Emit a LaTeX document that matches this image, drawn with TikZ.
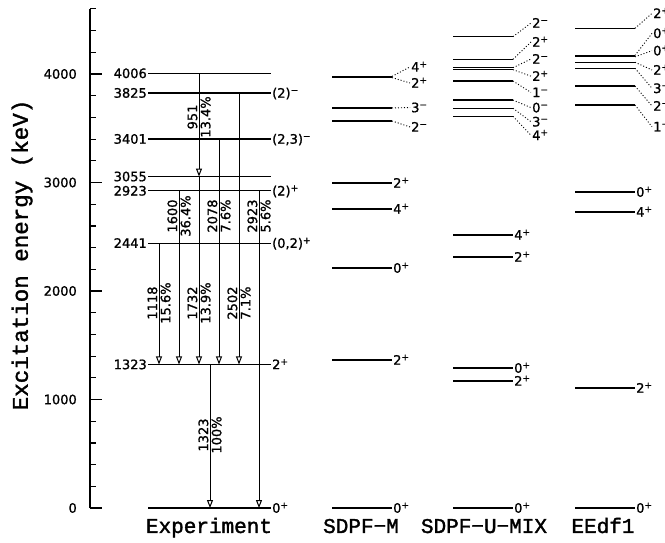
\documentclass[tikz,border=0pt]{standalone}
\usepackage{fontspec}
\newfontfamily\lf[FakeBold=1.2]{DejaVu Sans}
\newfontfamily\tf[FakeBold=1.6]{Liberation Mono}
\usetikzlibrary{arrows.meta}
\newcommand\jp{\textsuperscript{+}}
\newcommand\jm{\textsuperscript{\char"2212}}
\begin{document}
\begin{tikzpicture}[x=1pt,y=0.1085pt,
  lev/.style={line width=1.2pt},
  axl/.style={line width=1.2pt},
  gam/.style={line width=1pt,-{Triangle[open,length=8pt,width=6pt]}},
  dots/.style={line width=0.9pt,dash pattern=on 1pt off 2pt},
  lab/.style={font=\lf\fontsize{13}{15}\selectfont,inner sep=1pt},
  splab/.style={lab,anchor=base west,yshift=-4.7pt},
  elab/.style={lab,anchor=base east,yshift=-4.7pt},
  glab/.style={lab,rotate=90,inner sep=1.5pt},
  ttl/.style={font=\tf\fontsize{21}{23}\selectfont,inner sep=0pt,anchor=base}]
\useasboundingbox (0,-313.36) rectangle (665,4682);
\clip (0,-313.36) rectangle (665,4682);
\fill[white] (0,-313.36) rectangle (665,4682);

% axis
\draw[axl] (90,0) coordinate (ax0) -- (90,4600) coordinate (ax1);
\foreach \e in {0,1000,2000,3000,4000} \draw[axl] (90,\e) -- (102,\e);
\foreach \e in {200,400,600,800,1200,1400,1600,1800,2200,2400,2600,2800,3200,3400,3600,3800,4200,4400,4600} \draw[axl] (90,\e) -- (96,\e);
\node[elab] (tk0) at (78,0) {0};
\node[elab] (tk1) at (78,1000) {1000};
\node[elab] (tk2) at (78,2000) {2000};
\node[elab] (tk3) at (78,3000) {3000};
\node[elab] (tk4) at (78,4000) {4000};
\node[font=\tf\fontsize{22.5}{24}\selectfont,rotate=90,inner sep=0pt] (ylab) at (22,2332) {Excitation energy (keV)};

% Experiment levels
\draw[lev] (148,4006) coordinate (x1l) -- (271,4006) coordinate (x1r);
\draw[lev] (148,3825) coordinate (x2l) -- (271,3825) coordinate (x2r);
\draw[lev] (148,3401) coordinate (x3l) -- (271,3401) coordinate (x3r);
\draw[lev] (148,3055) coordinate (x4l) -- (271,3055) coordinate (x4r);
\draw[lev] (148,2923) coordinate (x5l) -- (271,2923) coordinate (x5r);
\draw[lev] (148,2441) coordinate (x6l) -- (271,2441) coordinate (x6r);
\draw[lev] (148,1323) coordinate (x7l) -- (271,1323) coordinate (x7r);
\draw[lev] (148,0) coordinate (x8l) -- (271,0) coordinate (x8r);
\node[elab] (xl1) at (x1l) {4006};
\node[elab] (xl2) at (x2l) {3825};
\node[elab] (xl3) at (x3l) {3401};
\node[elab] (xl4) at (x4l) {3055};
\node[elab] (xl5) at (x5l) {2923};
\node[elab] (xl6) at (x6l) {2441};
\node[elab] (xl7) at (x7l) {1323};
\node[splab] (xr2) at (x2r) {(2)\jm};
\node[splab] (xr3) at (x3r) {(2,3)\jm};
\node[splab] (xr5) at (x5r) {(2)\jp};
\node[splab] (xr6) at (x6r) {(0,2)\jp};
\node[splab] (xr7) at (x7r) {2\jp};
\node[splab] (xr8) at (x8r) {0\jp};

% transitions
\coordinate (ga1) at (199,4006); \coordinate (gb1) at (199,3055);
\coordinate (ga2) at (179,2923); \coordinate (gb2) at (179,1323);
\coordinate (ga3) at (199,3055); \coordinate (gb3) at (199,1323);
\coordinate (ga4) at (219,3401); \coordinate (gb4) at (219,1323);
\coordinate (ga5) at (239,3825); \coordinate (gb5) at (239,1323);
\coordinate (ga6) at (159,2441); \coordinate (gb6) at (159,1323);
\coordinate (ga7) at (210,1323); \coordinate (gb7) at (210,0);
\coordinate (ga8) at (259,2923); \coordinate (gb8) at (259,0);
\foreach \i in {1,...,8} \draw[gam] (ga\i) -- (gb\i);
\node[glab,anchor=south] (ge1) at (199,3604) {951};
\node[glab,anchor=north] (gi1) at (199,3604) {13.4\%};
\node[glab,anchor=south] (ge2) at (179,2691) {1600};
\node[glab,anchor=north] (gi2) at (179,2691) {36.4\%};
\node[glab,anchor=south] (ge4) at (219,2691) {2078};
\node[glab,anchor=north] (gi4) at (219,2691) {7.6\%};
\node[glab,anchor=south] (ge8) at (259,2691) {2923};
\node[glab,anchor=north] (gi8) at (259,2691) {5.6\%};
\node[glab,anchor=south] (ge6) at (159,1889) {1118};
\node[glab,anchor=north] (gi6) at (159,1889) {15.6\%};
\node[glab,anchor=south] (ge3) at (199,1889) {1732};
\node[glab,anchor=north] (gi3) at (199,1889) {13.9\%};
\node[glab,anchor=south] (ge5) at (239,1889) {2502};
\node[glab,anchor=north] (gi5) at (239,1889) {7.1\%};
\node[glab,anchor=south] (ge7) at (210,673) {1323};
\node[glab,anchor=north] (gi7) at (210,673) {100\%};

% SDPF-M
\draw[lev] (332,3978) -- (392,3978) coordinate (m1r);
\draw[lev] (332,3967) -- (392,3967) coordinate (m2r);
\draw[lev] (332,3687) -- (392,3687) coordinate (m3r);
\draw[lev] (332,3567) -- (392,3567) coordinate (m4r);
\draw[lev] (332,2995) -- (392,2995) coordinate (m5r);
\draw[lev] (332,2756) -- (392,2756) coordinate (m6r);
\draw[lev] (332,2212) -- (392,2212) coordinate (m7r);
\draw[lev] (332,1364) -- (392,1364) coordinate (m8r);
\draw[lev] (332,0) -- (392,0) coordinate (m9r);
\node[splab] (ml1) at (410,4065) {4\jp};
\node[splab] (ml2) at (410,3917) {2\jp};
\node[splab] (ml3) at (410,3691) {3\jm};
\node[splab] (ml4) at (410,3512) {2\jm};
\foreach \i in {1,...,4} \draw[dots] (m\i r) -- ([yshift=4.7pt]ml\i.base west);
\node[splab] (ml5) at (m5r) {2\jp};
\node[splab] (ml6) at (m6r) {4\jp};
\node[splab] (ml7) at (m7r) {0\jp};
\node[splab] (ml8) at (m8r) {2\jp};
\node[splab] (ml9) at (m9r) {0\jp};

% SDPF-U-MIX
\draw[lev] (453,4344) -- (513,4344) coordinate (u1r);
\draw[lev] (453,4135) -- (513,4135) coordinate (u2r);
\draw[lev] (453,4058) -- (513,4058) coordinate (u3r);
\draw[lev] (453,4040) -- (513,4040) coordinate (u4r);
\draw[lev] (453,3935) -- (513,3935) coordinate (u5r);
\draw[lev] (453,3760) -- (513,3760) coordinate (u6r);
\draw[lev] (453,3684) -- (513,3684) coordinate (u7r);
\draw[lev] (453,3610) -- (513,3610) coordinate (u8r);
\draw[lev] (453,2516) -- (513,2516) coordinate (u9r);
\draw[lev] (453,2313) -- (513,2313) coordinate (u10r);
\draw[lev] (453,1290) -- (513,1290) coordinate (u11r);
\draw[lev] (453,1171) -- (513,1171) coordinate (u12r);
\draw[lev] (453,0) -- (513,0) coordinate (u13r);
\node[splab] (ul1) at (531,4470) {2\jm};
\node[splab] (ul2) at (531,4295) {2\jp};
\node[splab] (ul3) at (531,4138) {2\jm};
\node[splab] (ul4) at (531,3980) {2\jp};
\node[splab] (ul5) at (531,3830) {1\jm};
\node[splab] (ul6) at (531,3690) {0\jm};
\node[splab] (ul7) at (531,3560) {3\jm};
\node[splab] (ul8) at (531,3435) {4\jp};
\foreach \i in {1,...,8} \draw[dots] (u\i r) -- ([yshift=4.7pt]ul\i.base west);
\node[splab] (ul9) at (u9r) {4\jp};
\node[splab] (ul10) at (u10r) {2\jp};
\node[splab] (ul11) at (u11r) {0\jp};
\node[splab] (ul12) at (u12r) {2\jp};
\node[splab] (ul13) at (u13r) {0\jp};

% EEdf1
\draw[lev] (575,4421) -- (635,4421) coordinate (f1r);
\draw[lev] (575,4171) -- (635,4171) coordinate (f2r);
\draw[lev] (575,4158) -- (635,4158) coordinate (f3r);
\draw[lev] (575,4108) -- (635,4108) coordinate (f4r);
\draw[lev] (575,4053) -- (635,4053) coordinate (f5r);
\draw[lev] (575,3889) -- (635,3889) coordinate (f6r);
\draw[lev] (575,3714) -- (635,3714) coordinate (f7r);
\draw[lev] (575,2912) -- (635,2912) coordinate (f8r);
\draw[lev] (575,2728) -- (635,2728) coordinate (f9r);
\draw[lev] (575,1106) -- (635,1106) coordinate (f10r);
\draw[lev] (575,0) -- (635,0) coordinate (f11r);
\node[splab] (fl1) at (652,4559) {2\jp};
\node[splab] (fl2) at (652,4375) {0\jp};
\node[splab] (fl3) at (652,4215) {0\jp};
\node[splab] (fl4) at (652,4037) {2\jp};
\node[splab] (fl5) at (652,3868) {3\jm};
\node[splab] (fl6) at (652,3705) {2\jm};
\node[splab] (fl7) at (652,3514) {1\jm};
\foreach \i in {1,...,7} \draw[dots] (f\i r) -- ([yshift=4.7pt]fl\i.base west);
\node[splab] (fl8) at (f8r) {0\jp};
\node[splab] (fl9) at (f9r) {4\jp};
\node[splab] (fl10) at (f10r) {2\jp};
\node[splab] (fl11) at (f11r) {0\jp};

% titles
\node[ttl] (t1) at (209,-230) {Experiment};
\node[ttl] (t2) at (361,-230) {SDPF\char"2212 M};
\node[ttl] (t3) at (484,-230) {SDPF\char"2212 U\char"2212 MIX};
\node[ttl] (t4) at (603,-230) {EEdf1};
\end{tikzpicture}
\end{document}
